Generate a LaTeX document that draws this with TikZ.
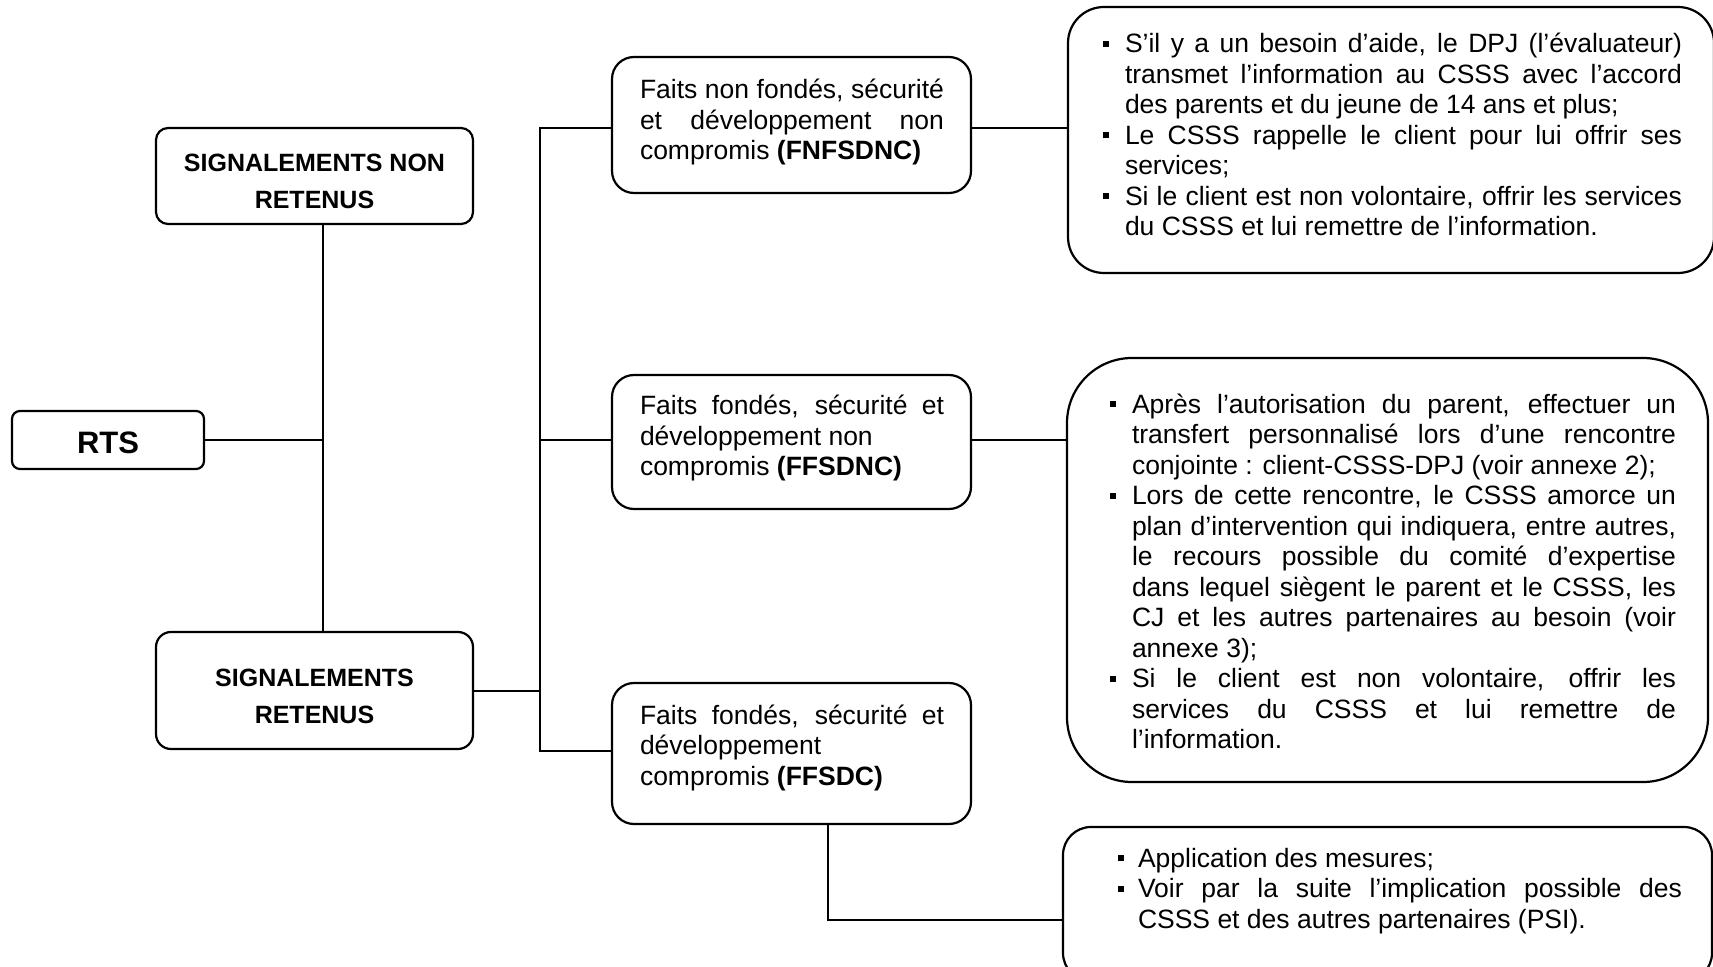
\documentclass[tikz,border=0pt]{standalone}
\usepackage{fontspec}
\setmainfont{Liberation Sans}

% Box geometry used by the line macros: box width, text indent,
% justified text width, bullet indent.
\newdimen\bxw \newdimen\txl \newdimen\txw \newdimen\btl
\newcommand\sqbullet{\rule[3pt]{3pt}{3pt}}
\newcommand\lines[1]{\vbox{\lineskiplimit=-\maxdimen #1}}
\newcommand\ctline[1]{\hbox to\bxw{\hss#1\hss}}
\newcommand\jline[1]{\hbox to\bxw{\hskip\txl\relax\hbox to\txw{#1}\hss}}
\newcommand\rline[1]{\hbox to\bxw{\hskip\txl\relax#1\hss}}
\newcommand\bjline[1]{\hbox to\bxw{\hskip\btl\relax\sqbullet\hskip\dimexpr\txl-\btl-3pt\relax\hbox to\txw{#1}\hss}}
\newcommand\brline[1]{\hbox to\bxw{\hskip\btl\relax\sqbullet\hskip\dimexpr\txl-\btl-3pt\relax#1\hss}}

\begin{document}
\begin{tikzpicture}[x=0.5pt,y=-0.5pt,
  box/.style={draw, line width=1.1pt, inner sep=0pt},
  conn/.style={line width=1pt},
  geom/.style n args={4}{execute at begin node={\bxw=#1\relax\txl=#2\relax\txw=#3\relax\btl=#4\relax}},
  headfont/.style={font=\bfseries\fontsize{12.5}{18.5}\selectfont},
  bodyfont/.style={font=\fontsize{13.25}{15.25}\selectfont}]

\useasboundingbox (0,0) rectangle (1713,967);
\clip (0,0) rectangle (1713,967);

% left column
\node[box, rounded corners=4pt, font=\bfseries\fontsize{15.5}{18}\selectfont,
      text height=21.15pt, text depth=7.85pt, geom={96pt}{0pt}{0pt}{0pt}]
  (rts) at (108,440) {\lines{\ctline{RTS}}};

\node[box, headfont, rounded corners=6pt, text height=40.25pt, text depth=7.75pt,
      geom={158.5pt}{0pt}{0pt}{0pt}]
  (snr) at (314.5,176) {\lines{\ctline{SIGNALEMENTS NON}\ctline{RETENUS}}};

\node[box, headfont, rounded corners=7.5pt, text height=45.5pt, text depth=13pt,
      geom={158.5pt}{0pt}{0pt}{0pt}]
  (sr) at (314.5,690.5) {\lines{\ctline{SIGNALEMENTS}\ctline{RETENUS}}};

% middle column
\node[box, bodyfont, rounded corners=11pt, text height=51.5pt, text depth=16.5pt,
      geom={179.5pt}{14pt}{152pt}{0pt}]
  (f1) at (791.5,125) {\lines{%
    \jline{Faits non fondés, sécurité}
    \jline{et développement non}
    \rline{compromis \textbf{(FNFSDNC)}}}};

\node[box, bodyfont, rounded corners=11pt, text height=50.5pt, text depth=16.5pt,
      geom={179.5pt}{14pt}{152pt}{0pt}]
  (f2) at (791.5,442) {\lines{%
    \jline{Faits fondés, sécurité et}
    \rline{développement non}
    \rline{compromis \textbf{(FFSDNC)}}}};

\node[box, bodyfont, rounded corners=11pt, text height=51pt, text depth=19.5pt,
      geom={179.5pt}{14pt}{152pt}{0pt}]
  (f3) at (791.5,753.5) {\lines{%
    \jline{Faits fondés, sécurité et}
    \rline{développement}
    \rline{compromis \textbf{(FFSDC)}}}};

% right column
\node[box, bodyfont, rounded corners=18pt, text height=114.5pt, text depth=18.5pt,
      geom={323pt}{28.5pt}{278.5pt}{17.5pt}]
  (b1) at (1391,140) {\lines{%
    \bjline{S’il y a un besoin d’aide, le DPJ (l’évaluateur)}
    \jline{transmet l’information au CSSS avec l’accord}
    \rline{des parents et du jeune de 14 ans et plus;}
    \bjline{Le CSSS rappelle le client pour lui offrir ses}
    \rline{services;}
    \bjline{Si le client est non volontaire, offrir les services}
    \rline{du CSSS et lui remettre de l’information.}}};

\node[box, bodyfont, rounded corners=32.5pt, text height=195.25pt, text depth=16.75pt,
      geom={320.5pt}{32.5pt}{272pt}{21.5pt}]
  (b2) at (1387.5,570) {\lines{%
    \bjline{Après l’autorisation du parent, effectuer un}
    \jline{transfert personnalisé lors d’une rencontre}
    \rline{conjointe : client-CSSS-DPJ (voir annexe 2);}
    \bjline{Lors de cette rencontre, le CSSS amorce un}
    \jline{plan d’intervention qui indiquera, entre autres,}
    \jline{le recours possible du comité d’expertise}
    \jline{dans lequel siègent le parent et le CSSS, les}
    \jline{CJ et les autres partenaires au besoin (voir}
    \rline{annexe 3);}
    \bjline{Si le client est non volontaire, offrir les}
    \jline{services du CSSS et lui remettre de}
    \rline{l’information.}}};

\node[box, bodyfont, rounded corners=14pt, text height=50.5pt, text depth=26.5pt,
      geom={324.5pt}{37.5pt}{272pt}{27.5pt}]
  (b3) at (1387.5,904) {\lines{%
    \brline{Application des mesures;}
    \bjline{Voir par la suite l’implication possible des}
    \rline{CSSS et des autres partenaires (PSI).}}};

% junction points of the connectors
\coordinate (tk) at (323,440);
\coordinate (br) at (540,690.5);
\coordinate (j1) at (540,128);
\coordinate (j2) at (540,440);
\coordinate (j3) at (540,751);
\coordinate (dn) at (828,920);

\draw[conn] (rts.east) -- (tk);
\draw[conn] (snr.south -| tk) -- (sr.north -| tk);
\draw[conn] (sr.east) -- (br);
\draw[conn] (j1 -| f1.west) -- (j1) -- (j3) -- (j3 -| f3.west);
\draw[conn] (j2) -- (j2 -| f2.west);
\draw[conn] (f1.east |- j1) -- (j1 -| b1.west);
\draw[conn] (f2.east |- j2) -- (j2 -| b2.west);
\draw[conn] (f3.south -| dn) -- (dn) -- (dn -| b3.west);
\end{tikzpicture}
\end{document}
